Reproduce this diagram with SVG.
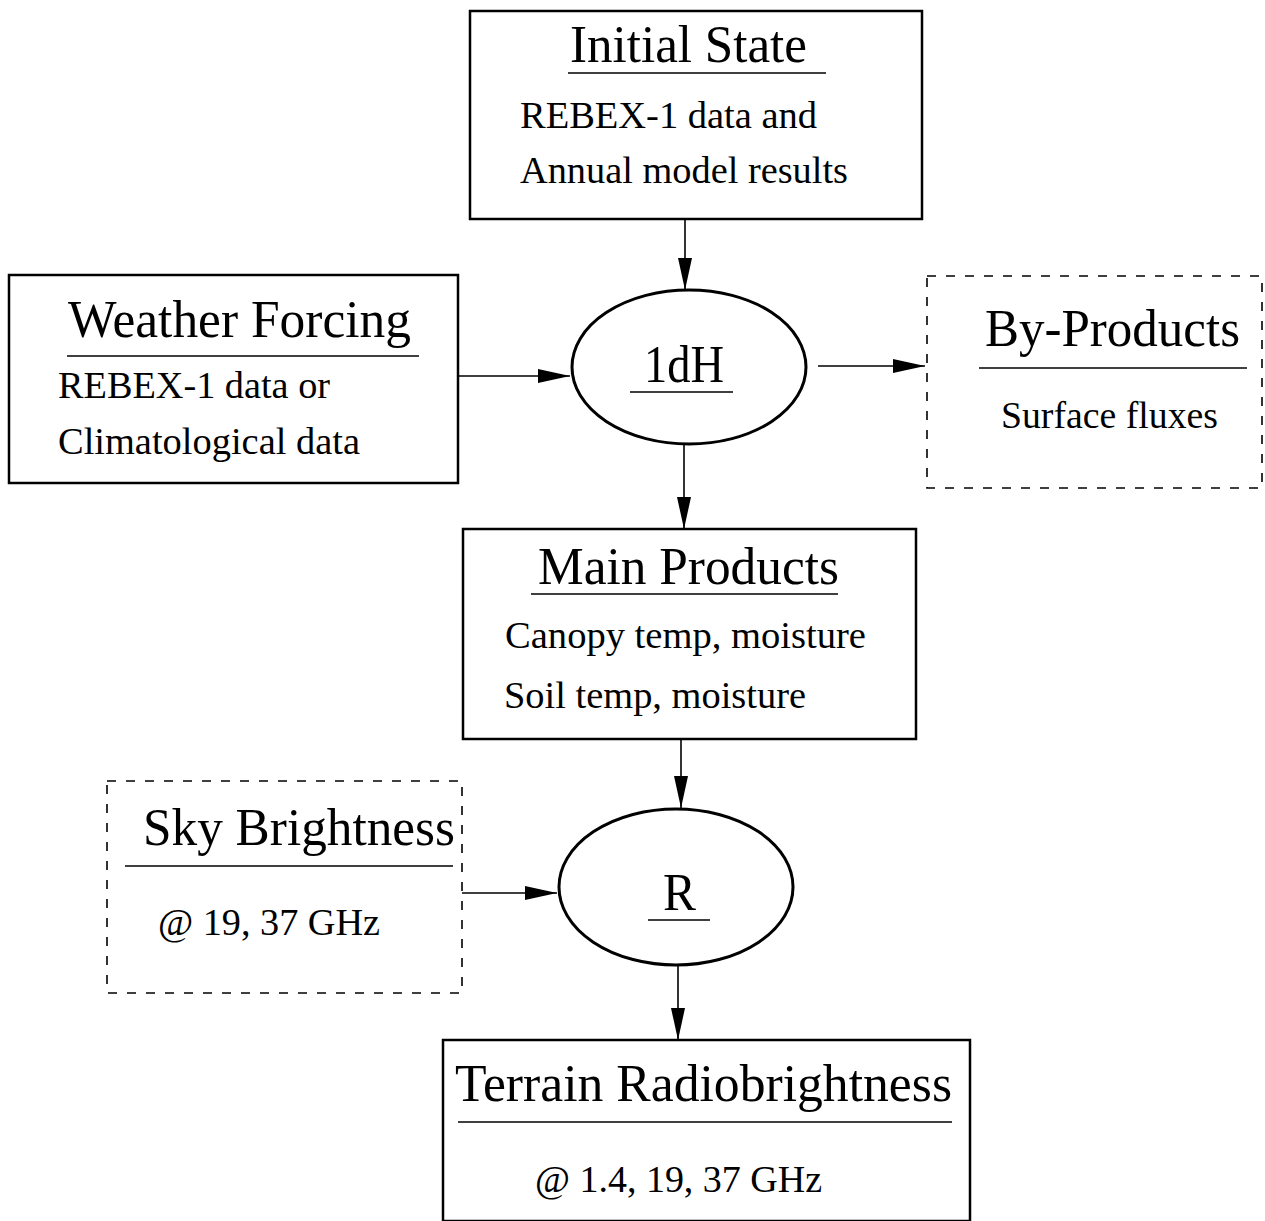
<svg xmlns="http://www.w3.org/2000/svg" width="1265" height="1221" viewBox="0 0 1265 1221">
<style>
text{font-family:"Liberation Serif","Times New Roman",serif;fill:#000}
.t{font-size:52px}
.b{font-size:37px}
.box{fill:#fff;stroke:#000;stroke-width:2.5}
.dash{fill:#fff;stroke:#000;stroke-width:1.6;stroke-dasharray:9 10}
.ell{fill:#fff;stroke:#000;stroke-width:3}
.ul{stroke:#000;stroke-width:1.6}
.c{stroke:#000;stroke-width:1.6;fill:none;marker-end:url(#ah)}
</style>
<defs>
<marker id="ah" markerUnits="userSpaceOnUse" markerWidth="32" markerHeight="14" refX="32" refY="7" orient="auto">
<path d="M0,0 L32,7 L0,14 z" fill="#000"/>
</marker>
</defs>
<rect width="1265" height="1221" fill="#fff"/>
<g id="connectors">
<line class="c" x1="685" y1="220" x2="685" y2="290"/>
<line class="c" x1="458" y1="376" x2="570" y2="376"/>
<line class="c" x1="818" y1="366" x2="925" y2="366"/>
<line class="c" x1="684" y1="445" x2="684" y2="529"/>
<line class="c" x1="681" y1="739" x2="681" y2="808"/>
<line class="c" x1="462" y1="893" x2="557" y2="893"/>
<line class="c" x1="678" y1="966" x2="678" y2="1040"/>
</g>
<g id="initial-state">
<rect class="box" x="470" y="11" width="452" height="208"/>
<text class="t" x="570" y="62" textLength="237" lengthAdjust="spacingAndGlyphs">Initial State</text>
<line class="ul" x1="568" y1="73" x2="826" y2="73"/>
<text class="b" x="520" y="128" textLength="297" lengthAdjust="spacingAndGlyphs">REBEX-1 data and</text>
<text class="b" x="520" y="183" textLength="328" lengthAdjust="spacingAndGlyphs">Annual model results</text>
</g>
<g id="weather-forcing">
<rect class="box" x="9" y="275" width="449" height="208"/>
<text class="t" x="68" y="337" textLength="343" lengthAdjust="spacingAndGlyphs">Weather Forcing</text>
<line class="ul" x1="67" y1="356" x2="419" y2="356"/>
<text class="b" x="58" y="398" textLength="272" lengthAdjust="spacingAndGlyphs">REBEX-1 data or</text>
<text class="b" x="58" y="454" textLength="302" lengthAdjust="spacingAndGlyphs">Climatological data</text>
</g>
<g id="ldh">
<ellipse class="ell" cx="689" cy="367" rx="117" ry="77"/>
<text class="t" x="644" y="382" textLength="80" lengthAdjust="spacingAndGlyphs">1dH</text>
<line class="ul" x1="630" y1="392" x2="733" y2="392"/>
</g>
<g id="by-products">
<rect class="dash" x="927" y="276" width="335" height="212"/>
<text class="t" x="985" y="346" textLength="255" lengthAdjust="spacingAndGlyphs">By-Products</text>
<line class="ul" x1="979" y1="368" x2="1247" y2="368"/>
<text class="b" x="1001" y="428" textLength="217" lengthAdjust="spacingAndGlyphs">Surface fluxes</text>
</g>
<g id="main-products">
<rect class="box" x="463" y="529" width="453" height="210"/>
<text class="t" x="538" y="584" textLength="301" lengthAdjust="spacingAndGlyphs">Main Products</text>
<line class="ul" x1="531" y1="594" x2="838" y2="594"/>
<text class="b" x="505" y="648" textLength="361" lengthAdjust="spacingAndGlyphs">Canopy temp, moisture</text>
<text class="b" x="504" y="708" textLength="302" lengthAdjust="spacingAndGlyphs">Soil temp, moisture</text>
</g>
<g id="sky-brightness">
<rect class="dash" x="107" y="781" width="355" height="212"/>
<text class="t" x="143" y="845" textLength="312" lengthAdjust="spacingAndGlyphs">Sky Brightness</text>
<line class="ul" x1="125" y1="866" x2="453" y2="866"/>
<text class="b" x="158" y="935" textLength="222" lengthAdjust="spacingAndGlyphs">@ 19, 37 GHz</text>
</g>
<g id="r">
<ellipse class="ell" cx="676" cy="887" rx="117" ry="78"/>
<text class="t" x="663" y="910" textLength="33" lengthAdjust="spacingAndGlyphs">R</text>
<line class="ul" x1="648" y1="920" x2="710" y2="920"/>
</g>
<g id="terrain-radiobrightness">
<rect class="box" x="443" y="1040" width="527" height="181"/>
<text class="t" x="455" y="1101" textLength="497" lengthAdjust="spacingAndGlyphs">Terrain Radiobrightness</text>
<line class="ul" x1="458" y1="1122" x2="952" y2="1122"/>
<text class="b" x="535" y="1192" textLength="287" lengthAdjust="spacingAndGlyphs">@ 1.4, 19, 37 GHz</text>
</g>
</svg>
